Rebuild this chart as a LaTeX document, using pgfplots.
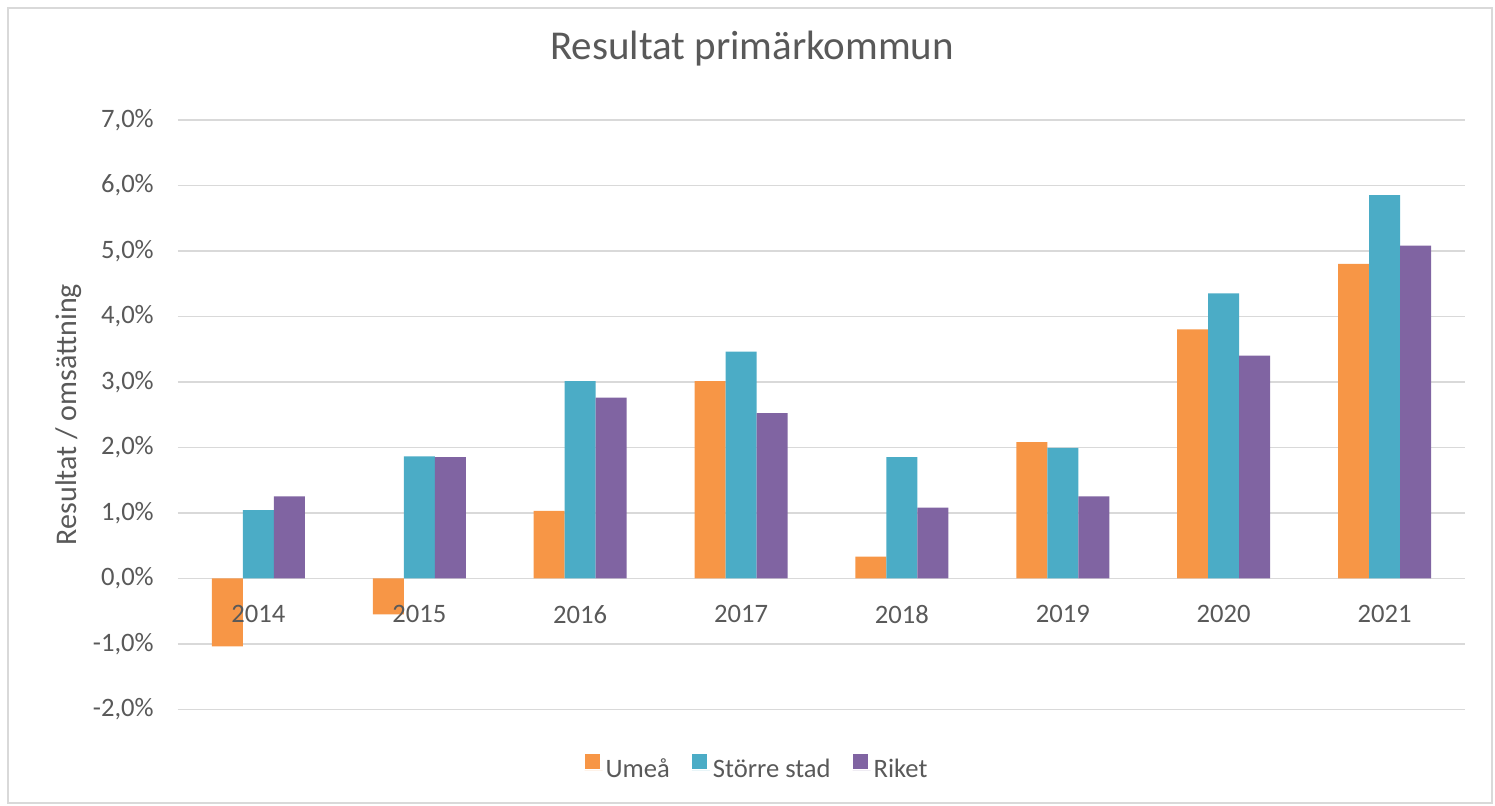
\documentclass[border=0pt]{standalone}
\usepackage{fontspec}
\setmainfont{Carlito}
\usepackage{pgfplots}
\pgfplotsset{compat=1.18}
\definecolor{cOr}{HTML}{F79646}
\definecolor{cTe}{HTML}{4BACC6}
\definecolor{cPu}{HTML}{8064A2}
\definecolor{cTx}{HTML}{595959}
\definecolor{cGr}{HTML}{D9D9D9}
\tikzset{xl/.style={anchor=north, inner sep=0pt, yshift=-13.35pt, font=\fontsize{13.3}{16}\selectfont, text=cTx}}
\begin{document}
\begin{tikzpicture}
\begin{axis}[
  scale only axis, width=643.5pt, height=294.75pt,
  xmin=-0.5, xmax=7.5, ymin=-2, ymax=7,
  clip=false,
  ybar=0pt, bar width=15.5pt,
  axis line style={draw=none},
  major tick length=0pt,
  xtick=\empty,
  ytick={-2,-1,0,1,2,3,4,5,6,7},
  yticklabels={{-2,0\%},{-1,0\%},{0,0\%},{1,0\%},{2,0\%},{3,0\%},{4,0\%},{5,0\%},{6,0\%},{7,0\%}},
  ymajorgrids, grid style={cGr, line width=0.75pt},
  tick label style={font=\fontsize{13.3}{16}\selectfont, text=cTx},
  yticklabel style={xshift=-8.6pt},
  title={Resultat primärkommun},
  title style={at={(0.446,1.0816)}, anchor=base, yshift=0pt, font=\fontsize{20.5}{24}\selectfont, text=cTx},
  ylabel={Resultat / omsättning},
  every axis y label/.style={at={(axis description cs:-0.0787,0.5)}, rotate=90, anchor=base, font=\fontsize{15}{18}\selectfont, text=cTx},
  legend style={at={(0.4503,-0.1013)}, anchor=center, draw=none, fill=none,
    legend columns=3, font=\fontsize{13.3}{16}\selectfont, text=cTx,
    nodes={inner sep=1.5pt},
    /tikz/every even column/.append style={column sep=9.5pt}},
  legend image code/.code={\fill[#1] (0pt,0.5pt) rectangle (7.5pt,8pt); \path (0pt,0pt) -- (9pt,0pt);},
]
\addplot[fill=cOr, draw=none] coordinates {(0,-1.04) (1,-0.55) (2,1.03) (3,3.01) (4,0.33) (5,2.08) (6,3.80) (7,4.80)};
\addplot[fill=cTe, draw=none] coordinates {(0,1.04) (1,1.86) (2,3.01) (3,3.46) (4,1.85) (5,1.99) (6,4.35) (7,5.85)};
\addplot[fill=cPu, draw=none] coordinates {(0,1.25) (1,1.85) (2,2.76) (3,2.52) (4,1.08) (5,1.25) (6,3.40) (7,5.08)};
\legend{Umeå, Större stad, Riket}
\node[xl] at (axis cs:0,0) {2014};
\node[xl] at (axis cs:1,0) {2015};
\node[xl] at (axis cs:2,0) {2016};
\node[xl] at (axis cs:3,0) {2017};
\node[xl] at (axis cs:4,0) {2018};
\node[xl] at (axis cs:5,0) {2019};
\node[xl] at (axis cs:6,0) {2020};
\node[xl] at (axis cs:7,0) {2021};
\coordinate (SW) at (rel axis cs:0,0);
\end{axis}
\draw[cGr, line width=0.75pt] ([shift={(-85pt,-46.85pt)}]SW) rectangle ([shift={(657pt,350.65pt)}]SW);
\path ([shift={(-89pt,-48.35pt)}]SW) rectangle ([shift={(658.5pt,354.65pt)}]SW);
\end{tikzpicture}
\end{document}
